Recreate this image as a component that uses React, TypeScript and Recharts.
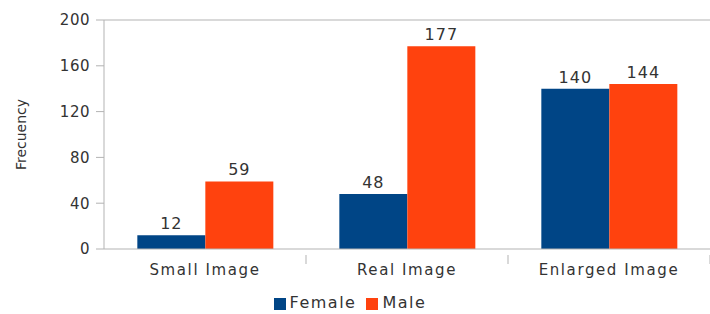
import React from "react";
import { BarChart, Bar, XAxis, YAxis, Legend, LabelList, ReferenceLine } from "recharts";

const categories = ["Small Image", "Real Image", "Enlarged Image"];
const female = [12, 48, 140];
const male = [59, 177, 144];
const yTicks = [0, 40, 80, 120, 160, 200];

const data = categories.map((c, i) => ({ name: c, Female: female[i], Male: male[i] }));

const FONT = "DejaVu Sans, sans-serif";
const AXIS = "#b3b3b3";

function CategoryTick(props: any) {
  const { x, y, payload, index, visibleTicksCount } = props;
  const half = payload && typeof payload.offset === "number" ? payload.offset : 0;
  const top = y - 6;
  return (
    <g>
      {half > 0 && index > 0 ? (
        <line x1={x - half} x2={x - half} y1={top} y2={top + 9} stroke={AXIS} />
      ) : null}
      {half > 0 && index === visibleTicksCount - 1 ? (
        <line x1={x + half} x2={x + half} y1={top} y2={top + 9} stroke={AXIS} />
      ) : null}
      <text
        x={x}
        y={y}
        dy={14}
        textAnchor="middle"
        fill="#333"
        fontSize={15}
        fontFamily={FONT}
        letterSpacing={1.6}
      >
        {payload.value}
      </text>
    </g>
  );
}

export default function App() {
  return (
    <div style={{ position: "absolute", left: 0, top: 0, background: "#fff" }}>
      <BarChart
        width={710}
        height={314}
        data={data}
        margin={{ top: 20, right: 0, left: 0, bottom: 2 }}
        barCategoryGap="16.5%"
        barGap={0}
      >
        <XAxis
          dataKey="name"
          height={44}
          tickLine={false}
          axisLine={{ stroke: AXIS }}
          tick={<CategoryTick />}
          tickMargin={6}
          interval={0}
        />
        <YAxis
          width={104}
          domain={[0, 200]}
          ticks={yTicks}
          tick={{ fill: "#333", fontSize: 15, fontFamily: FONT, letterSpacing: 0.5 }}
          tickLine={{ stroke: AXIS }}
          axisLine={{ stroke: AXIS }}
          tickSize={8}
          tickMargin={6}
          label={{
            value: "Frecuency",
            angle: -90,
            position: "insideLeft",
            offset: 21,
            style: { fill: "#333", fontSize: 14, fontFamily: FONT, textAnchor: "middle" },
          }}
        />
        <ReferenceLine y={200} stroke={AXIS} />
        <Legend
          verticalAlign="bottom"
          iconType="square"
          iconSize={12}
          wrapperStyle={{ fontFamily: FONT, fontSize: 16, color: "#333", letterSpacing: 1.5 }}
          formatter={(v) => <span style={{ color: "#333" }}>{v}</span>}
        />
        <Bar dataKey="Female" fill="#004586" isAnimationActive={false}>
          <LabelList dataKey="Female" position="top" offset={6} style={{ fill: "#333", fontSize: 16, fontFamily: FONT, letterSpacing: 1 }} />
        </Bar>
        <Bar dataKey="Male" fill="#ff420e" isAnimationActive={false}>
          <LabelList dataKey="Male" position="top" offset={6} style={{ fill: "#333", fontSize: 16, fontFamily: FONT, letterSpacing: 1 }} />
        </Bar>
      </BarChart>
    </div>
  );
}
